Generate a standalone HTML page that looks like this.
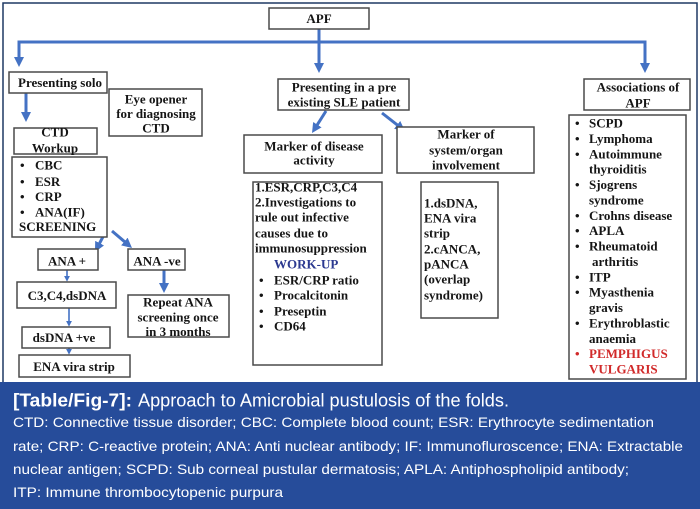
<!DOCTYPE html>
<html>
<head>
<meta charset="utf-8">
<style>
  html,body{margin:0;padding:0;background:#fff;}
  body{width:700px;height:509px;overflow:hidden;}
  svg{display:block;}
  .t{font-family:"Liberation Serif","DejaVu Serif",serif;font-weight:bold;font-size:13px;fill:#151515;}
  .c{font-family:"Liberation Sans","DejaVu Sans",sans-serif;fill:#fff;}
  .bx{fill:#fff;stroke:#4a4a4a;stroke-width:1.5;}
  .ar{stroke:#4472c4;stroke-width:3;fill:none;}
  .ar2{stroke:#4472c4;stroke-width:1.6;fill:none;}
</style>
</head>
<body>
<svg width="700" height="509" viewBox="0 0 700 509" xmlns="http://www.w3.org/2000/svg">
  <defs>
    <marker id="hb" viewBox="0 0 10 10" markerWidth="10" markerHeight="10" refX="2" refY="5" orient="auto" markerUnits="userSpaceOnUse">
      <path d="M0,0 L10,5 L0,10 z" fill="#4472c4"/>
    </marker>
    <marker id="hs" viewBox="0 0 10 10" markerWidth="6" markerHeight="6" refX="2" refY="5" orient="auto" markerUnits="userSpaceOnUse">
      <path d="M0,0 L10,5 L0,10 z" fill="#4472c4"/>
    </marker>
  </defs>

  <!-- outer frame -->
  <rect x="3" y="3" width="694" height="400" fill="#fff" stroke="#1f3864" stroke-width="1.5"/>

  <!-- main connectors -->
  <polyline class="ar" points="19,59 19,42 645,42 645,65" marker-end="url(#hb)"/>
  <line class="ar" x1="19" y1="42" x2="19" y2="59" marker-end="url(#hb)"/>
  <line class="ar" x1="319" y1="29" x2="319" y2="65" marker-end="url(#hb)"/>
  <line class="ar" x1="26" y1="93" x2="26" y2="114" marker-end="url(#hb)"/>
  <line class="ar" x1="106" y1="231" x2="98.7" y2="244.9" marker-end="url(#hb)"/>
  <line class="ar" x1="112" y1="231" x2="125.9" y2="242.8" marker-end="url(#hb)"/>
  <line class="ar" x1="164" y1="270" x2="164" y2="285" marker-end="url(#hb)"/>
  <line class="ar" x1="326" y1="111" x2="316.3" y2="126.3" marker-end="url(#hb)"/>
  <line class="ar" x1="382" y1="113" x2="398.7" y2="126.1" marker-end="url(#hb)"/>
  <line class="ar2" x1="67" y1="270" x2="67" y2="277" marker-end="url(#hs)"/>
  <line class="ar2" x1="69" y1="308" x2="69" y2="322" marker-end="url(#hs)"/>
  <line class="ar2" x1="69" y1="348" x2="69" y2="350" marker-end="url(#hs)"/>

  <!-- boxes -->
  <rect class="bx" x="269" y="8" width="100" height="21"/>
  <rect class="bx" x="9" y="72" width="98" height="21"/>
  <rect class="bx" x="109" y="89" width="93" height="47"/>
  <rect class="bx" x="14" y="128" width="83" height="26"/>
  <rect class="bx" x="12" y="157" width="95" height="80"/>
  <rect class="bx" x="38" y="249" width="60" height="21"/>
  <rect class="bx" x="128" y="249" width="57" height="21"/>
  <rect class="bx" x="17" y="282" width="99" height="26"/>
  <rect class="bx" x="22" y="327" width="88" height="21"/>
  <rect class="bx" x="19" y="355" width="111" height="22"/>
  <rect class="bx" x="128" y="295" width="101" height="42"/>
  <rect class="bx" x="278" y="79" width="131" height="31"/>
  <rect class="bx" x="244" y="135" width="138" height="38"/>
  <rect class="bx" x="397" y="127" width="137" height="46"/>
  <rect class="bx" x="253" y="182" width="129" height="183"/>
  <rect class="bx" x="421" y="182" width="77" height="136"/>
  <rect class="bx" x="584" y="79" width="106" height="31"/>
  <rect class="bx" x="569" y="115" width="117" height="264"/>

  <!-- box titles -->
  <g class="t" text-anchor="middle">
    <text x="319" y="23">APF</text>
    <text x="60" y="87">Presenting solo</text>
    <text x="156" y="103.5">Eye opener</text>
    <text x="156" y="118">for diagnosing</text>
    <text x="156" y="132.5">CTD</text>
    <text x="55" y="136.5">CTD</text>
    <text x="55" y="152.5">Workup</text>
    <text x="67" y="265.5">ANA +</text>
    <text x="157" y="265.5">ANA -ve</text>
    <text x="67" y="300">C3,C4,dsDNA</text>
    <text x="64" y="342">dsDNA +ve</text>
    <text x="74" y="371">ENA vira strip</text>
    <text x="178" y="306.5">Repeat ANA</text>
    <text x="178" y="321.5">screening once</text>
    <text x="178" y="336">in 3 months</text>
    <text x="344" y="91.5">Presenting in a pre</text>
    <text x="344" y="106.5">existing SLE patient</text>
    <text x="314" y="150.5">Marker of disease</text>
    <text x="314" y="164.5">activity</text>
    <text x="466" y="138.5">Marker of</text>
    <text x="466" y="154.5">system/organ</text>
    <text x="466" y="169.5">involvement</text>
    <text x="638" y="91.5">Associations of</text>
    <text x="638" y="107.5">APF</text>
  </g>

  <!-- CTD workup list -->
  <g class="t">
    <text x="20" y="169.5">•</text><text x="35" y="169.5">CBC</text>
    <text x="20" y="186">•</text><text x="35" y="186">ESR</text>
    <text x="20" y="201">•</text><text x="35" y="201">CRP</text>
    <text x="20" y="216.5">•</text><text x="35" y="216.5">ANA(IF)</text>
    <text x="19" y="231">SCREENING</text>
  </g>

  <!-- disease activity list -->
  <g class="t">
    <text x="255" y="191.5">1.ESR,CRP,C3,C4</text>
    <text x="255" y="206.5">2.Investigations to</text>
    <text x="255" y="221.5">rule out infective</text>
    <text x="255" y="237.5">causes due to</text>
    <text x="255" y="252.5">immunosuppression</text>
    <text x="274" y="268.5" style="fill:#2b3990">WORK-UP</text>
    <text x="259" y="284.5">•</text><text x="274" y="284.5">ESR/CRP ratio</text>
    <text x="259" y="299.5">•</text><text x="274" y="299.5">Procalcitonin</text>
    <text x="259" y="315.5">•</text><text x="274" y="315.5">Preseptin</text>
    <text x="259" y="330.5">•</text><text x="274" y="330.5">CD64</text>
  </g>

  <!-- system list -->
  <g class="t">
    <text x="424" y="207.5">1.dsDNA,</text>
    <text x="424" y="222.5">ENA vira</text>
    <text x="424" y="237.5">strip</text>
    <text x="424" y="253.5">2.cANCA,</text>
    <text x="424" y="268.5">pANCA</text>
    <text x="424" y="283.5">(overlap</text>
    <text x="424" y="299.5">syndrome)</text>
  </g>

  <!-- associations list -->
  <g class="t">
    <text x="575" y="127.5">•</text><text x="589" y="127.5">SCPD</text>
    <text x="575" y="142.9">•</text><text x="589" y="142.9">Lymphoma</text>
    <text x="575" y="158.3">•</text><text x="589" y="158.3">Autoimmune</text>
    <text x="589" y="173.6">thyroiditis</text>
    <text x="575" y="189">•</text><text x="589" y="189">Sjogrens</text>
    <text x="589" y="204.4">syndrome</text>
    <text x="575" y="219.8">•</text><text x="589" y="219.8">Crohns disease</text>
    <text x="575" y="235.1">•</text><text x="589" y="235.1">APLA</text>
    <text x="575" y="250.5">•</text><text x="589" y="250.5">Rheumatoid</text>
    <text x="592" y="265.9">arthritis</text>
    <text x="575" y="281.3">•</text><text x="589" y="281.3">ITP</text>
    <text x="575" y="296.6">•</text><text x="589" y="296.6">Myasthenia</text>
    <text x="589" y="312">gravis</text>
    <text x="575" y="327.4">•</text><text x="589" y="327.4">Erythroblastic</text>
    <text x="589" y="342.8">anaemia</text>
    <text x="575" y="358.1" style="fill:#d12a2a">•</text><text x="589" y="358.1" style="fill:#d12a2a">PEMPHIGUS</text>
    <text x="589" y="373.5" style="fill:#d12a2a">VULGARIS</text>
  </g>

  <!-- caption -->
  <rect x="0" y="382" width="700" height="127" fill="#264c9a"/>
  <text class="c" x="13" y="406.5" font-size="18" font-weight="bold" textLength="119" lengthAdjust="spacingAndGlyphs">[Table/Fig-7]:</text>
  <text class="c" x="138" y="406.5" font-size="18" textLength="371" lengthAdjust="spacingAndGlyphs">Approach to Amicrobial pustulosis of the folds.</text>
  <text class="c" x="13" y="427" font-size="14" textLength="641" lengthAdjust="spacingAndGlyphs">CTD: Connective tissue disorder; CBC: Complete blood count; ESR: Erythrocyte sedimentation</text>
  <text class="c" x="13" y="451" font-size="14" textLength="670" lengthAdjust="spacingAndGlyphs">rate; CRP: C-reactive protein; ANA: Anti nuclear antibody; IF: Immunofluroscence; ENA: Extractable</text>
  <text class="c" x="13" y="474" font-size="14" textLength="616" lengthAdjust="spacingAndGlyphs">nuclear antigen; SCPD: Sub corneal pustular dermatosis; APLA: Antiphospholipid antibody;</text>
  <text class="c" x="13" y="497" font-size="14" textLength="270" lengthAdjust="spacingAndGlyphs">ITP: Immune thrombocytopenic purpura</text>
</svg>
</body>
</html>
